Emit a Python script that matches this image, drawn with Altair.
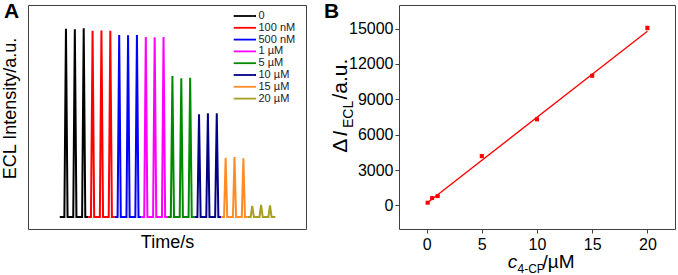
import altair as alt
import pandas as pd

FONT = "Liberation Sans"

# ---------------- Panel A data ----------------
conc_labels = ["0", "100 nM", "500 nM", "1 µM", "5 µM", "10 µM", "15 µM", "20 µM"]
conc_colors = ["#000000", "#ff0000", "#0000ff", "#ff00ff", "#008a00", "#000088", "#ff8c26", "#a8a020"]
# ECL peak intensities (a.u.), three scans per concentration
peaks_0 = [16000, 15950, 16040]
peaks_100nM = [15830, 15850, 15840]
peaks_500nM = [15470, 15440, 15470]
peaks_1uM = [15300, 15270, 15300]
peaks_5uM = [11990, 11790, 11840]
peaks_10uM = [8730, 8810, 8810]
peaks_15uM = [5040, 5100, 4990]
peaks_20uM = [940, 1020, 990]
all_peaks = [peaks_0, peaks_100nM, peaks_500nM, peaks_1uM,
             peaks_5uM, peaks_10uM, peaks_15uM, peaks_20uM]
# scan times (arbitrary time units) of the 24 peaks
peak_times = [[1, 2, 3], [4, 5, 6], [7, 8, 9], [10, 11, 12],
              [13, 14, 15], [16, 17, 18], [19, 20, 21], [22, 23, 24]]
seg_start = [0.3, 3.5, 6.5, 9.5, 12.5, 15.5, 18.5, 21.5]
seg_end = [3.5, 6.5, 9.5, 12.5, 15.5, 18.5, 21.5, 24.6]
HALF = 0.18  # half width of a pulse

rows = []
for g, lab in enumerate(conc_labels):
    k = 0
    rows.append(dict(label=lab, t=seg_start[g], I=0, o=k)); k += 1
    for t, h in zip(peak_times[g], all_peaks[g]):
        rows.append(dict(label=lab, t=t - HALF, I=0, o=k)); k += 1
        rows.append(dict(label=lab, t=t, I=h, o=k)); k += 1
        rows.append(dict(label=lab, t=t + HALF, I=0, o=k)); k += 1
    rows.append(dict(label=lab, t=seg_end[g], I=0, o=k))
df_a = pd.DataFrame(rows)
df_leg = pd.DataFrame({"label": conc_labels, "idx": list(range(len(conc_labels)))})

# ---------------- Panel B data ----------------
conc_uM = [0.1, 0.5, 1, 5, 10, 15, 20]
delta_I = [230, 620, 790, 4180, 7300, 11000, 15050]
delta_err = [60, 50, 60, 120, 100, 110, 160]
fit_x = [0.1, 20]
fit_y = [250, 14780]
df_b = pd.DataFrame({"c": conc_uM, "d": delta_I,
                     "lo": [v - e for v, e in zip(delta_I, delta_err)],
                     "hi": [v + e for v, e in zip(delta_I, delta_err)]})
df_fit = pd.DataFrame({"c": fit_x, "d": fit_y})

color_scale = alt.Scale(domain=conc_labels, range=conc_colors)

# ---------------- Panel A ----------------
lines = alt.Chart(df_a).mark_line(strokeWidth=2).encode(
    x=alt.X("t:Q", scale=alt.Scale(domain=[-3.28, 28.06], nice=False, zero=False),
            axis=alt.Axis(title="Time/s", labels=False, ticks=False, domain=False,
                          grid=False, titlePadding=4)),
    y=alt.Y("I:Q", scale=alt.Scale(domain=[-1020, 18020], nice=False, zero=False),
            axis=alt.Axis(title="ECL Intensity/a.u.", labels=False, ticks=False,
                          domain=False, grid=False, titlePadding=9, titleY=103)),
    color=alt.Color("label:N", scale=color_scale, legend=None),
    detail="label:N",
    order="o:Q",
)
leg_y = alt.Y("idx:Q", scale=alt.Scale(domain=[-0.932, 18.05], reverse=True, nice=False, zero=False),
              axis=None)
leg_rule = alt.Chart(df_leg).mark_rule(strokeWidth=1.8).encode(
    x=alt.value(205.7), x2=alt.value(228), y=leg_y,
    color=alt.Color("label:N", scale=color_scale, legend=None))
leg_text = alt.Chart(df_leg).mark_text(align="left", baseline="middle", fontSize=11,
                                       font=FONT, color="#222").encode(
    x=alt.value(230.5), y=leg_y, text="label:N")
letter_a = alt.Chart(pd.DataFrame({"s": ["A"]})).mark_text(
    align="left", baseline="alphabetic", fontSize=21, fontWeight="bold", font=FONT,
    color="black").encode(x=alt.value(-24), y=alt.value(12.5), text="s:N")

panel_a = alt.layer(lines, leg_rule, leg_text, letter_a).resolve_scale(
    y="independent").properties(width=278, height=224)

# ---------------- Panel B ----------------
xscale_b = alt.Scale(domain=[-2.5, 22.5], nice=False, zero=False)
yscale_b = alt.Scale(domain=[-2000, 17000], nice=False, zero=False)
xb = alt.X("c:Q", scale=xscale_b,
           axis=alt.Axis(title=None, values=[0, 5, 10, 15, 20], grid=False, domain=False,
                         tickSize=4, labelFontSize=16, labelPadding=3))
yb = alt.Y("d:Q", scale=yscale_b,
           axis=alt.Axis(title=None, values=[0, 3000, 6000, 9000, 12000, 15000], format="d",
                         grid=False, domain=False, tickSize=4, labelFontSize=16,
                         labelPadding=2))
fit = alt.Chart(df_fit).mark_line(color="#ff0000", strokeWidth=1.3).encode(x=xb, y=yb)
err = alt.Chart(df_b).mark_rule(color="#ff0000", strokeWidth=1).encode(
    x=xb, y=alt.Y("lo:Q", scale=yscale_b), y2="hi:Q")
cap_lo = alt.Chart(df_b).mark_tick(color="#ff0000", orient="horizontal", size=4,
                                   thickness=1).encode(x=xb, y=alt.Y("lo:Q", scale=yscale_b))
cap_hi = alt.Chart(df_b).mark_tick(color="#ff0000", orient="horizontal", size=4,
                                   thickness=1).encode(x=xb, y=alt.Y("hi:Q", scale=yscale_b))
pts = alt.Chart(df_b).mark_square(color="#ff0000", size=16, opacity=1).encode(x=xb, y=yb)

ytitle_parts = ["Δ", "I", "ECL", "/a.u."]
xtitle_parts = ["c", "4-CP", "/µM"]


def txt(s, x, y, size, style="normal", angle=0):
    return alt.Chart(pd.DataFrame({"s": [s]})).mark_text(
        align="left", baseline="alphabetic", fontSize=size, fontStyle=style, font=FONT,
        color="black", angle=angle).encode(x=alt.value(x), y=alt.value(y), text="s:N")


title_marks = [
    txt(ytitle_parts[0], -52.5, 147.7, 21, angle=270),
    txt(ytitle_parts[1], -52.5, 131.5, 21, "italic", angle=270),
    txt(ytitle_parts[2], -46.5, 123, 14, angle=270),
    txt(ytitle_parts[3], -52.5, 94.5, 21, angle=270),
    txt(xtitle_parts[0], 108.7, 262.7, 19, "italic"),
    txt(xtitle_parts[1], 118.5, 268, 12),
    txt(xtitle_parts[2], 143.5, 262.7, 19),
]
letter_b = alt.Chart(pd.DataFrame({"s": ["B"]})).mark_text(
    align="left", baseline="alphabetic", fontSize=21, fontWeight="bold", font=FONT,
    color="black").encode(x=alt.value(-75), y=alt.value(12.5), text="s:N")

panel_b = alt.layer(fit, err, cap_lo, cap_hi, pts, *title_marks, letter_b).properties(
    width=276, height=224)

chart = alt.hconcat(panel_a, panel_b, spacing=93, bounds="flush").properties(
    padding={"left": 0, "top": 0, "right": 0, "bottom": 0}, background="white"
).configure_view(stroke="#404040", strokeWidth=1).configure_axis(
    labelFont=FONT, titleFont=FONT, titleFontSize=18, titleFontWeight="normal",
    labelFontSize=16, labelColor="black", titleColor="black",
    tickColor="#404040", tickWidth=1)

chart.save("out.html", embed_options={"renderer": "svg", "actions": False})
